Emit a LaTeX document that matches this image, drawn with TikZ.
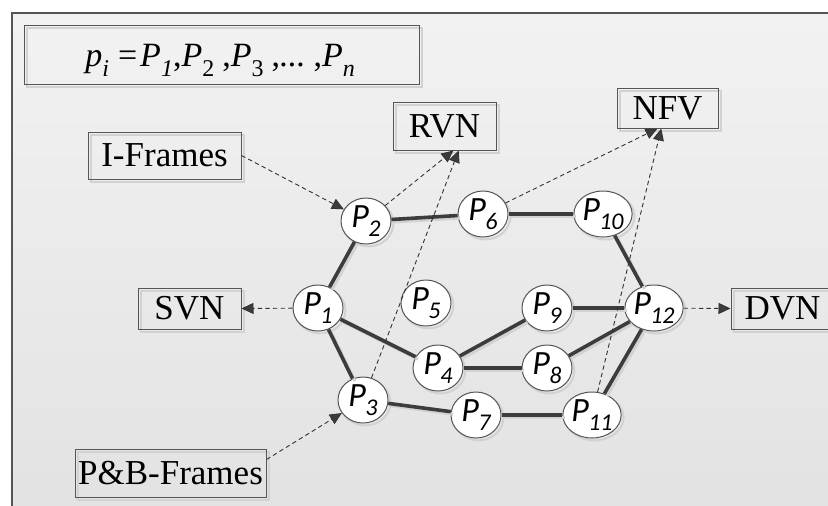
\documentclass[tikz,border=0pt]{standalone}
\usepackage{fontspec}
\setmainfont{Liberation Serif}
\newfontfamily\pfont{Carlito}
\usetikzlibrary{arrows.meta,shapes.geometric,calc}
\definecolor{bgtop}{HTML}{F2F2F2}
\definecolor{bgbot}{HTML}{E2E2E2}
\definecolor{edgec}{HTML}{3C3C3C}
\definecolor{framec}{HTML}{555555}
\definecolor{ghost}{HTML}{D2D2D2}
\newcommand{\plab}[1]{{\pfont\itshape\fontsize{17}{17}\selectfont P\kern-0.02em\raisebox{-0.28em}{\fontsize{12}{12}\selectfont #1}}}
\newcommand{\fsub}[1]{\raisebox{-0.3em}{\fontsize{12}{12}\selectfont #1}}
\begin{document}
\begin{tikzpicture}[x=0.5pt,y=-0.5pt,
  ghosted/.style={preaction={draw=ghost, line width=0.9pt, transform canvas={shift={(1.5pt,-1.5pt)}}}},
  pnode/.style={ellipse, draw=framec, fill=white, line width=0.5pt, minimum width=25pt, minimum height=23pt, inner sep=0pt,
    preaction={draw=ghost, line width=1pt, transform canvas={shift={(1.2pt,-1.2pt)}}}},
  lbox/.style={rectangle, draw=framec, line width=0.5pt, inner sep=0pt, font=\fontsize{17.5}{19}\selectfont, ghosted},
  edge/.style={draw=edgec, line width=1.8pt,
    preaction={draw=ghost, line width=1.6pt, transform canvas={shift={(1.2pt,-1.2pt)}}}},
  darr/.style={draw=black!80, line width=0.45pt, dash pattern=on 2.2pt off 1.6pt,
    -{Triangle[length=6pt,width=5.5pt,fill=edgec]}}
]
\useasboundingbox (0,0) rectangle (828,505);
\fill[white] (0,0) rectangle (828,505);
\shade[top color=bgtop, bottom color=bgbot] (12,13) rectangle (840,520);
\draw[framec, line width=0.7pt] (12,520) -- (12,13) -- (840,13);

% boxes
\node[lbox, minimum width=197.5pt, minimum height=29.5pt] (formula) at (221.5,54.5) {};
\node[anchor=base west, inner sep=0pt, font=\fontsize{17}{19}\selectfont] (ftext) at (85,66)
  {\textit{p}\fsub{\textit{i}}\kern4.5pt\textup{=}\kern1.5pt\textit{P}\fsub{\textit{1}},\textit{P}\fsub{2}\kern4pt,\textit{P}\fsub{3}\kern4pt,\textit{...}\kern4pt,\textit{P}\fsub{\textit{n}}};
\node[lbox, minimum width=51.5pt, minimum height=24pt] (rvn) at (444.5,126) {RVN};
\node[lbox, minimum width=50.5pt, minimum height=20pt] (nfv) at (667.5,108) {NFV};
\node[lbox, minimum width=76.5pt, minimum height=23.5pt] (iframes) at (164.5,155.5) {I-Frames};
\node[lbox, minimum width=51.5pt, minimum height=20.5pt] (svn) at (189.5,308.5) {SVN};
\node[lbox, minimum width=95.5pt, minimum height=24pt] (pb) at (170.5,473) {P\&B-Frames};
\node[lbox, minimum width=51.5pt, minimum height=20.5pt] (dvn) at (782.5,308.5) {DVN};

% P nodes
\node[pnode] (p1) at (318,308) {\plab{1}};
\node[pnode] (p2) at (366,221) {\plab{2}};
\node[pnode] (p3) at (363,400) {\plab{3}};
\node[pnode] (p4) at (438,368) {\plab{4}};
\node[pnode] (p5) at (426,303) {\plab{5}};
\node[pnode] (p6) at (483,214) {\plab{6}};
\node[pnode] (p7) at (476,415) {\plab{7}};
\node[pnode] (p8) at (547,368) {\plab{8}};
\node[pnode] (p9) at (547,308) {\plab{9}};
\node[pnode] (p10) at (603,214) {\plab{10}};
\node[pnode] (p11) at (592,415) {\plab{11}};
\node[pnode] (p12) at (654,308) {\plab{12}};

% thick edges
\foreach \a/\b in {p1/p2, p1/p3, p1/p4, p2/p6, p6/p10, p10/p12, p3/p7, p7/p11, p11/p12, p4/p9, p4/p8, p9/p12, p8/p12}
  \path[edge] (\a) -- (\b);

% dashed arrows
\draw[darr] (iframes.east) -- (p2);
\draw[darr] (pb.8) -- (p3);
\draw[darr] (p1) -- (svn.east);
\draw[darr] (p12) -- (dvn.west);
\draw[darr] (p2) -- (rvn.-70);
\draw[darr] (p3) -- (rvn.-60);
\draw[darr] (p6) -- (nfv.-116);
\draw[darr] (p11) -- (nfv.-107);
\end{tikzpicture}
\end{document}
